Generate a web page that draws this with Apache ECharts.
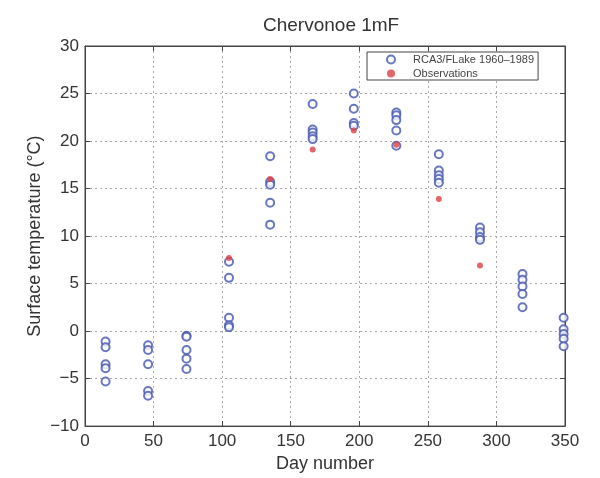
<!DOCTYPE html>
<html>
<head>
<meta charset="utf-8">
<script src="https://cdn.jsdelivr.net/npm/echarts@6/dist/echarts.min.js"></script>
<style>html,body{margin:0;padding:0;background:#fff}#c{width:600px;height:478px}</style>
</head>
<body>
<div id="c"></div>
<script>
// Model (RCA3/FLake) simulated surface temperatures per mid-month day
const modelDays = [15, 46, 74, 105, 135, 166, 196, 227, 258, 288, 319, 349];
const modelTemps = [
  [-1.1, -1.7, -3.5, -3.9, -5.3],
  [-1.5, -2.0, -3.5, -6.3, -6.8],
  [-0.5, -0.6, -2.0, -2.9, -4.0],
  [7.3, 5.6, 1.4, 0.6, 0.4],
  [18.4, 15.7, 15.4, 13.5, 11.2],
  [23.9, 21.2, 20.9, 20.5, 20.2],
  [25.0, 23.4, 21.9, 21.6],
  [23.0, 22.7, 22.2, 21.1, 19.5],
  [18.6, 16.9, 16.4, 16.0, 15.6],
  [10.9, 10.4, 9.9, 9.6],
  [6.0, 5.4, 4.7, 3.9, 2.5],
  [1.4, 0.2, -0.3, -0.8, -1.6]
];
const obsDays = [105, 135, 166, 196, 227, 258, 288];
const obsTemps = [7.7, 16.0, 19.1, 21.1, 19.6, 13.9, 6.9];
const xTicks = [0, 50, 100, 150, 200, 250, 300, 350];
const yTicks = [-10, -5, 0, 5, 10, 15, 20, 25, 30];

const modelData = [];
modelDays.forEach((d, i) => modelTemps[i].forEach(t => modelData.push([d, t])));
const obsData = obsDays.map((d, i) => [d, obsTemps[i]]);

const fmt = v => (v < 0 ? '\u2212' + Math.abs(v) : String(v));
const font = 'Liberation Sans, Arial, sans-serif';
const gridLine = {show: true, lineStyle: {color: '#aaa', type: [2, 3], width: 1}};
const tick = {show: true, inside: true, length: 5, lineStyle: {color: '#444'}};
const line = {show: true, onZero: false, lineStyle: {color: '#444'}};

const chart = echarts.init(document.getElementById('c'), null, {renderer: 'canvas'});
chart.setOption({
  animation: false,
  backgroundColor: '#fff',
  title: {
    text: 'Chervonoe 1mF', left: 258, top: 11,
    textStyle: {fontFamily: font, fontSize: 19, fontWeight: 'normal', color: '#333'}
  },
  grid: {left: 85, right: 35, top: 46, bottom: 46, show: true, borderColor: '#444', borderWidth: 1},
  legend: {
    orient: 'vertical', left: 367, top: 52, itemGap: 3, itemWidth: 10, itemHeight: 8,
    backgroundColor: '#fff', borderColor: '#444', borderWidth: 1, padding: [2, 4, 1, 19],
    textStyle: {fontFamily: font, fontSize: 11, color: '#444', padding: [0, 0, 0, 12]},
    data: [{name: 'RCA3/FLake 1960\u20131989', icon: 'emptyCircle'}, {name: 'Observations', icon: 'circle'}]
  },
  xAxis: [{
    type: 'value', min: 0, max: 350, interval: 50,
    name: 'Day number', nameLocation: 'middle', nameGap: 27,
    nameTextStyle: {fontFamily: font, fontSize: 18, color: '#333'},
    axisLine: line, axisTick: tick,
    axisLabel: {fontFamily: font, fontSize: 17, color: '#333', margin: 7, formatter: v => xTicks.includes(v) ? fmt(v) : ''},
    splitLine: gridLine
  }, {
    type: 'value', min: 0, max: 350, interval: 50, position: 'top',
    axisLine: line, axisTick: tick,
    axisLabel: {show: false}, splitLine: {show: false}
  }],
  yAxis: [{
    type: 'value', min: -10, max: 30, interval: 5,
    name: 'Surface temperature (\u00b0C)', nameLocation: 'middle', nameGap: 41, nameRotate: 90,
    nameMoveOverlap: false,
    nameTextStyle: {fontFamily: font, fontSize: 18, color: '#333'},
    axisLine: line, axisTick: tick,
    axisLabel: {fontFamily: font, fontSize: 17, color: '#333', margin: 6, formatter: v => yTicks.includes(v) ? fmt(v) : ''},
    splitLine: gridLine
  }, {
    type: 'value', min: -10, max: 30, interval: 5, position: 'right',
    axisLine: line, axisTick: tick,
    axisLabel: {show: false}, splitLine: {show: false}
  }],
  series: [{
    name: 'RCA3/FLake 1960\u20131989', type: 'scatter', symbol: 'emptyCircle', symbolSize: 8,
    itemStyle: {color: '#4455b0', borderWidth: 1.6}, data: modelData, z: 3
  }, {
    name: 'Observations', type: 'scatter', symbol: 'circle', symbolSize: 6,
    itemStyle: {color: '#dc4044'}, data: obsData, z: 4
  }]
});
</script>
</body>
</html>
